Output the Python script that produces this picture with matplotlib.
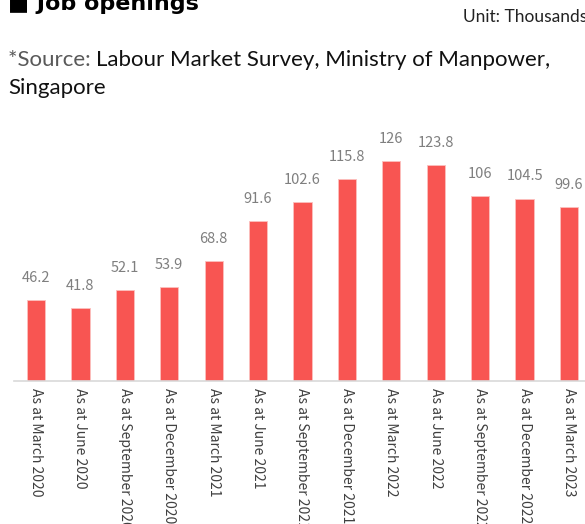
import matplotlib.pyplot as plt

categories = ["As at March 2020", "As at June 2020", "As at September 2020",
              "As at December 2020", "As at March 2021", "As at June 2021",
              "As at September 2021", "As at December 2021", "As at March 2022",
              "As at June 2022", "As at September 2022", "As at December 2022",
              "As at March 2023"]
openings = [46.2, 41.8, 52.1, 53.9, 68.8, 91.6, 102.6, 115.8, 126, 123.8, 106, 104.5, 99.6]
value_labels = ["46.2", "41.8", "52.1", "53.9", "68.8", "91.6", "102.6", "115.8",
                "126", "123.8", "106", "104.5", "99.6"]

W, H = 585, 524
fig = plt.figure(figsize=(W / 100, H / 100), dpi=100)

# axes: baseline at y=381 px, from x=14 px to right edge
ax = fig.add_axes([14 / W, (H - 381) / H, (W - 14) / W, 250 / H])
x = list(range(len(categories)))
ax.bar(x, openings, width=0.41, color="#F85552", edgecolor="#FBC0BE", linewidth=0.6)
ax.set_xlim(-0.495, 12.36)
ax.set_ylim(0, 143.2)

lab_font = ["Noto Sans CJK JP", "DejaVu Sans"]
for xi, v, t in zip(x, openings, value_labels):
    ax.annotate(t, (xi, v), xytext=(0, 11), textcoords="offset points",
                ha="center", va="bottom", fontsize=10.5, color="#7F7F7F", family=lab_font)

ax.set_xticks(x)
ax.set_xticklabels(categories, rotation=-90, fontsize=10, color="#404040",
                   family=lab_font, va="top", ha="center")
ax.tick_params(axis="x", length=0, pad=5)
ax.set_yticks([])
for s in ["top", "right", "left"]:
    ax.spines[s].set_visible(False)
ax.spines["bottom"].set_color("#D9D9D9")
ax.spines["bottom"].set_linewidth(1.2)

txt_font = ["Lato", "DejaVu Sans"]
fig.text(8 / W, 1 - 10 / H, "■ Job openings", fontsize=16, fontweight="bold",
         color="black", family=["DejaVu Sans"], va="baseline", ha="left")
fig.text(1 + 2 / W, 1 - 17 / H, "Unit: Thousands", fontsize=12.5, color="#222222",
         family=txt_font, va="center", ha="right")
src = fig.text(8 / W, 1 - 60 / H, "*Source: ", fontsize=16, color="#595959",
               family=txt_font, va="center", ha="left")
fig.canvas.draw()
bb = src.get_window_extent()
fig.text(bb.x1 / W, 1 - 60 / H, "Labour Market Survey, Ministry of Manpower,",
         fontsize=16, color="#111111", family=txt_font, va="center", ha="left")
fig.text(8 / W, 1 - 88 / H, "Singapore", fontsize=16, color="#111111",
         family=txt_font, va="center", ha="left")

fig.savefig("out.png", dpi=100)
